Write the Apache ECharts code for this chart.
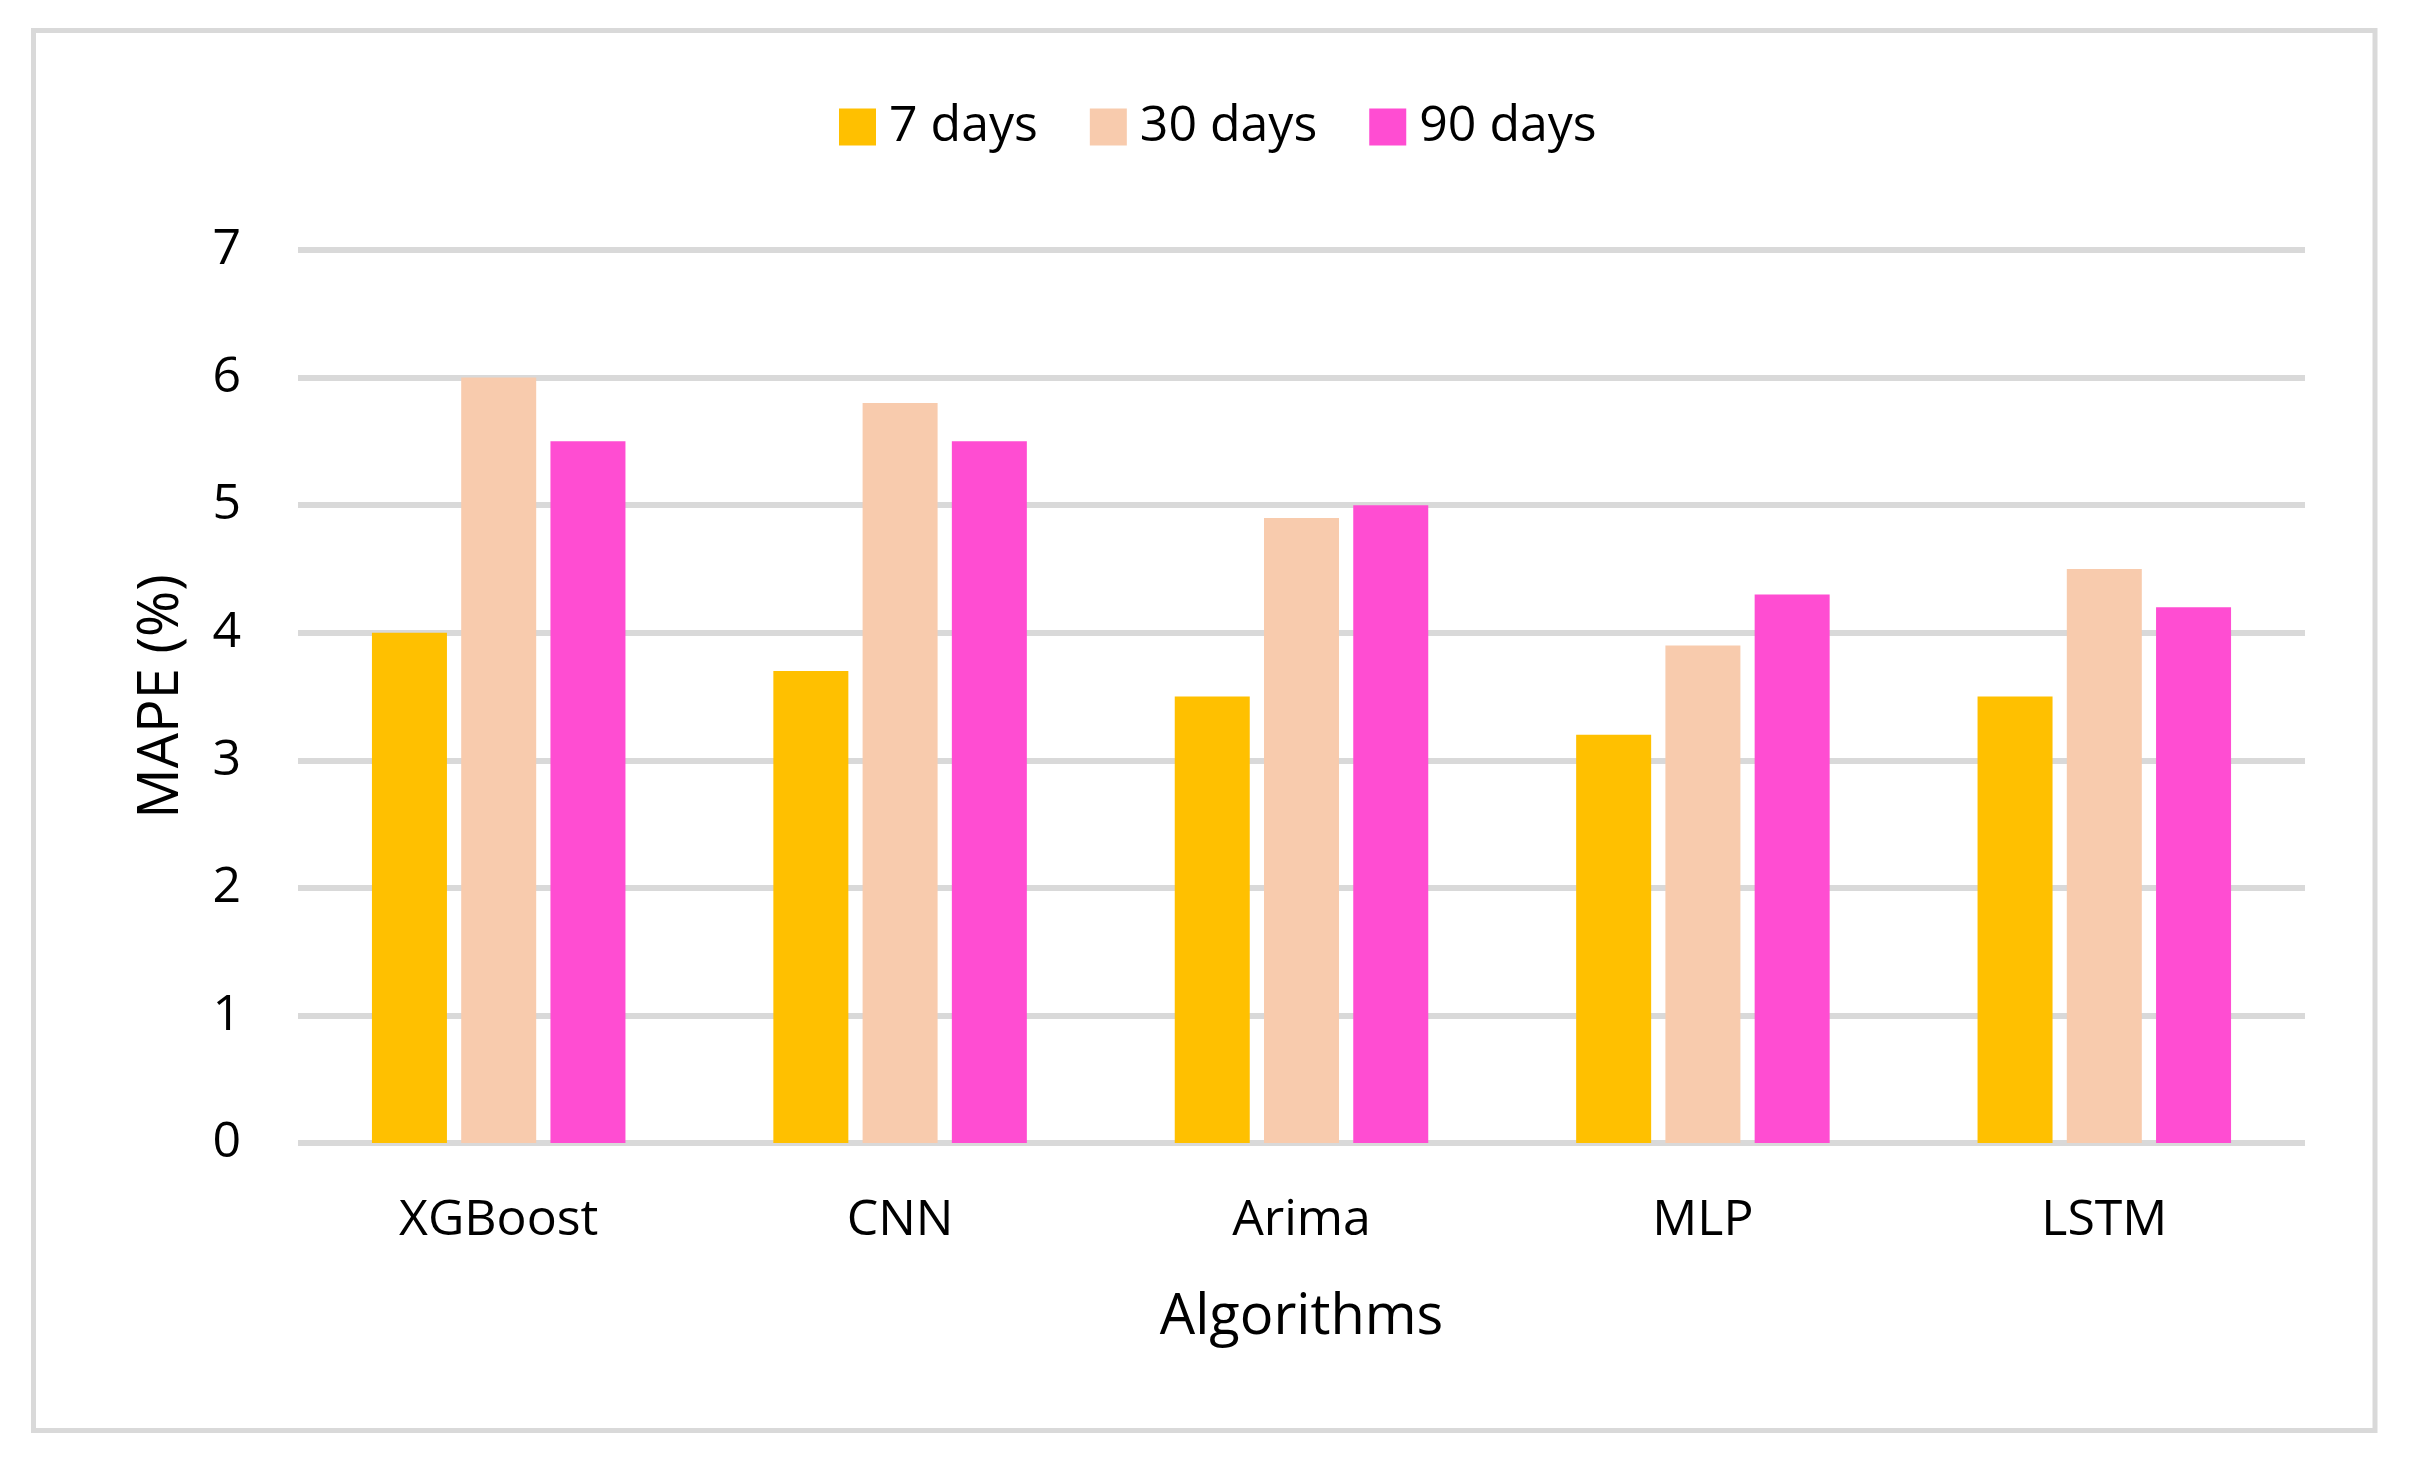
<!DOCTYPE html>
<html>
<head>
<meta charset="utf-8">
<style>
  html, body { margin: 0; padding: 0; background: #ffffff; }
  #chart { width: 2409px; height: 1462px; }
</style>
<script src="https://cdn.jsdelivr.net/npm/echarts@6/dist/echarts.min.js"></script>
</head>
<body>
<div id="chart"></div>
<script>
const categories = ['XGBoost', 'CNN', 'Arima', 'MLP', 'LSTM'];
const seriesNames = ['7 days', '30 days', '90 days'];
const days7 = [4.0, 3.7, 3.5, 3.2, 3.5];
const days30 = [6.0, 5.8, 4.9, 3.9, 4.5];
const days90 = [5.5, 5.5, 5.0, 4.3, 4.2];
const yTicks = [0, 1, 2, 3, 4, 5, 6, 7];
const colors = ['#FFC000', '#F8CBAD', '#FF4DD2'];

const FONT = "'Open Sans', 'Noto Sans', sans-serif";
const chart = echarts.init(document.getElementById('chart'));
const values = [days7, days30, days90];

chart.setOption({
  animation: false,
  backgroundColor: '#ffffff',
  textStyle: { fontFamily: FONT, color: '#000000' },
  graphic: [{
    type: 'rect',
    shape: { x: 33.5, y: 30.5, width: 2341.5, height: 1400 },
    style: { fill: 'none', stroke: '#d9d9d9', lineWidth: 5 },
    silent: true
  }],
  legend: {
    top: 97,
    left: 834,
    itemWidth: 37,
    itemHeight: 37,
    itemGap: 52,
    icon: 'rect',
    textStyle: { fontFamily: FONT, fontSize: 50, color: '#000000', padding: [0, 0, 0, 8] },
    data: seriesNames
  },
  grid: { left: 298, right: 104, top: 250, bottom: 319, containLabel: false },
  xAxis: {
    type: 'category',
    data: categories,
    name: 'Algorithms',
    nameLocation: 'middle',
    nameGap: 147,
    nameTextStyle: { fontFamily: FONT, fontSize: 56, color: '#000000' },
    axisLine: { show: false },
    axisTick: { show: false },
    axisLabel: { fontFamily: FONT, fontSize: 50, color: '#000000', margin: 53 }
  },
  yAxis: {
    type: 'value',
    min: yTicks[0],
    max: yTicks[yTicks.length - 1],
    interval: 1,
    name: 'MAPE (%)',
    nameLocation: 'middle',
    nameGap: 108,
    nameRotate: 90,
    nameTextStyle: { fontFamily: FONT, fontSize: 56, color: '#000000' },
    axisLine: { show: false },
    axisTick: { show: false },
    axisLabel: { fontFamily: FONT, fontSize: 50, color: '#000000', margin: 57 },
    splitLine: { show: true, lineStyle: { color: '#d9d9d9', width: 6 } }
  },
  series: seriesNames.map((n, i) => ({
    name: n,
    type: 'bar',
    data: values[i],
    barWidth: 75,
    barGap: '19%',
    itemStyle: { color: colors[i] }
  }))
});
</script>
</body>
</html>
